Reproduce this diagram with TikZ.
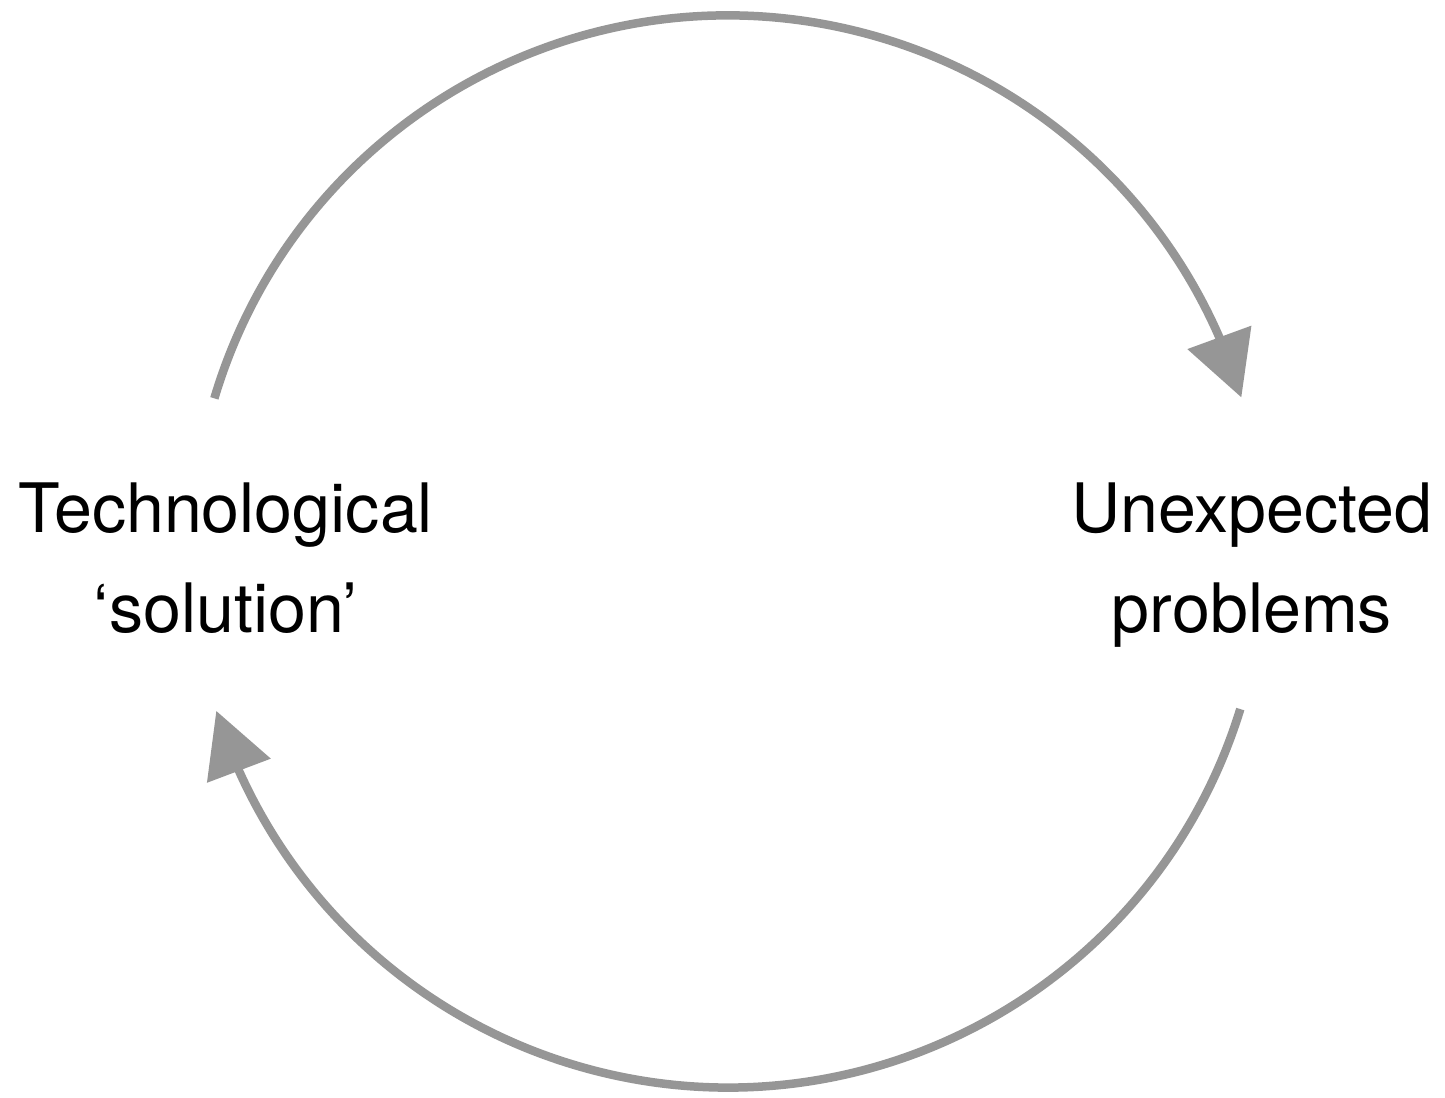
\documentclass[tikz,border=0pt]{standalone}
\usepackage{fontspec}
\setmainfont{TeX Gyre Heros}
\usetikzlibrary{arrows.meta,bending}
\definecolor{arcgray}{RGB}{150,150,150}
\tikzset{
  label/.style={align=center, anchor=base, inner sep=0pt,
    font=\fontsize{19.4}{28.5}\selectfont, text=black},
  cyclearc/.style={draw=arcgray, line width=0.085cm,
    -{Triangle[length=0.64cm,width=0.66cm,flex]}, arcgray}
}
\begin{document}
\begin{tikzpicture}
\useasboundingbox (0,0) rectangle (14.45,10.98);
\coordinate (c) at (7.28,5.465);
\node[label] (tech) at (2.26,4.65) {Technological\\‘solution’};
\node[label] (unexp) at (12.52,4.65) {Unexpected\\problems};
\draw[cyclearc] (c) ++(163.4:5.36) arc[start angle=163.4, end angle=16.7, radius=5.36cm];
\draw[cyclearc] (c) ++(-17.1:5.36) arc[start angle=-17.1, end angle=-162.7, radius=5.36cm];
\end{tikzpicture}
\end{document}
